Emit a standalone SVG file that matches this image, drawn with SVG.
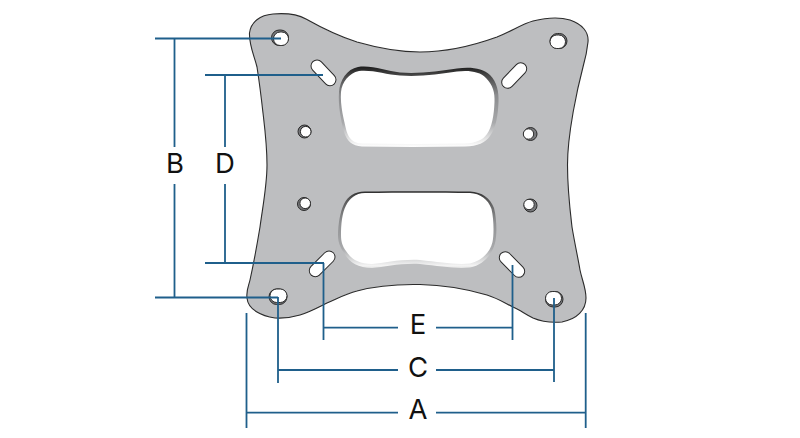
<svg xmlns="http://www.w3.org/2000/svg" width="800" height="438" viewBox="0 0 800 438">
<style>
.plate{fill:#bdbec0;stroke:#2b2b2b;stroke-width:1.1}
.hole{fill:#fff;stroke:#2b2b2b;stroke-width:1}
.shade{fill:#77787b;stroke:#2b2b2b;stroke-width:1}
.slotO{fill:none;stroke:#2b2b2b;stroke-width:13;stroke-linecap:round}
.slotI{fill:none;stroke:#fff;stroke-width:11;stroke-linecap:round}
.dim{fill:none;stroke:#1f5f8b;stroke-width:1.8}
.lab{font-family:"Inter","Liberation Sans",sans-serif;font-size:27.500px;fill:#111;text-anchor:middle}
</style>
<defs>
<linearGradient id="bevelTop" x1="0" y1="0" x2="0" y2="1">
<stop offset="0" stop-color="#1c1c1c"/><stop offset="0.1" stop-color="#444"/><stop offset="0.35" stop-color="#8a8b8d"/><stop offset="0.7" stop-color="#a8a9ab"/><stop offset="0.95" stop-color="#f2f2f2"/><stop offset="1" stop-color="#fff"/>
</linearGradient>
<linearGradient id="bevelLow" x1="0" y1="0" x2="0" y2="1">
<stop offset="0" stop-color="#2a2a2a"/><stop offset="0.1" stop-color="#555"/><stop offset="0.4" stop-color="#8f9092"/><stop offset="0.75" stop-color="#a8a9ab"/><stop offset="0.97" stop-color="#f4f4f4"/><stop offset="1" stop-color="#e4e4e4"/>
</linearGradient>
</defs>
<g id="plate">
<path class="plate" d="M249.500 33C251 22 260 15 273 14C285 13 297 14 306 19C322 28 338 36 357 42C378 48 398 52 420 52C445 52 472 46 497 37C512 31 522 24 533 21C545 18 560 17 570 20C582 24 589 32 588 42C587 52 585 60 583 67C577 90 575 102 573 113C570 130 567.500 150 567.500 165C567.500 190 570 210 572 227C575 245 578 258 580 270C582 280 586 288 586 298C586 310 577 319 562 322C550 323 540 321 533 318C525 314 520 310 513 307C505 303 497 298 487 295C470 290 445 285 420 284.500C395 284 375 286 357 291C345 294 337 299 327 303C317 308 310 312 300 315C290 318 283 318.500 275 318C262 316 248 310 247 298C246 290 249 285 250 280C254 262 257 245 260 227C263 205 267 185 267 165C267 145 265 130 263 113C261 95 259 80 257 67C254 55 249 45 249.500 33Z"/>
</g>
<g id="window-upper">
<path fill="url(#bevelTop)" d="M339 92C340 80 347 69 358 67C372 65 386 71 400 72.500C420 74 440 71 457 68.500C470 66.500 483 68 490 75C497 82 499 92 498.500 102C498 115 496 128 490 136C485 143 478 146 465 146.500C430 147 395 147 362 146.500C352 146 347 141 344 132C341 120 338 106 339 92Z"/>
<path fill="#fff" d="M341 92C342 82 349 73 359 71C372 69.500 386 74.500 400 75.500C420 77 440 74 457 71.500C469 70 480 71.500 486 78C493 85 495 93 494.500 102C494 115 492 127 487 134C483 140 476 143 465 143.500C430 144 395 144 362 143.500C353 143 349 139 346.500 131C344 120 340 106 341 92Z"/>
</g>
<g id="window-lower">
<path fill="url(#bevelLow)" d="M338 235C338 225 340 212 344 204C348 196 354 192 365 191.500C400 191 440 191 470 191.500C482 192 490 198 494 208C497 220 497 235 495 243C492 255 483 265 470 267.500C455 269 440 266 420 264C400 263 385 267 372 268C358 268 349 262 344 253C340 247 338 242 338 235Z"/>
<path fill="#fff" d="M341 235C341 225 342 213 346 205.500C350 198 355 193.500 365 193C400 192.500 440 192.500 470 193C480 193.500 488 199 491.500 209C494 220 494 235 492.500 242C490 253 481 261 470 263.500C455 265 440 262 420 260C400 259 385 263 372 264C359 264 351 259 346 251C342.500 246 341 242 341 235Z"/>
</g>
<g id="hole-corner-tl"><rect class="shade" x="271.500" y="30" width="17" height="15.500" rx="7.700"/><rect class="hole" x="273.500" y="32" width="15" height="13.500" rx="6.700"/></g>
<g id="hole-corner-tr"><rect class="shade" x="550" y="33.500" width="17" height="15" rx="7.500"/><rect class="hole" x="550" y="35" width="15.500" height="13.500" rx="6.700"/></g>
<g id="hole-corner-bl"><rect class="shade" x="269" y="289" width="18" height="15.500" rx="7.700"/><rect class="hole" x="270" y="289" width="17" height="13.500" rx="6.700"/></g>
<g id="hole-corner-br"><rect class="shade" x="545.500" y="291.500" width="17.500" height="15.500" rx="7.700"/><rect class="hole" x="545.500" y="291.500" width="16" height="13.500" rx="6.700"/></g>
<g id="slot-tl"><path class="slotO" d="M317 66L330 79.700"/><path class="slotI" d="M317 66L330 79.700"/></g>
<g id="slot-tr"><path class="slotO" d="M507.700 82.300L520.700 68.700"/><path class="slotI" d="M507.700 82.300L520.700 68.700"/></g>
<g id="slot-bl"><path class="slotO" d="M315.300 270.700L329 257"/><path class="slotI" d="M315.300 270.700L329 257"/></g>
<g id="slot-br"><path class="slotO" d="M505.300 257.700L518.700 271.300"/><path class="slotI" d="M505.300 257.700L518.700 271.300"/></g>
<g id="hole-mid-tl"><circle class="shade" cx="304.500" cy="131.500" r="6.500"/><circle class="hole" cx="305.700" cy="131.700" r="5.300"/></g>
<g id="hole-mid-tr"><circle class="shade" cx="530.500" cy="134" r="6.500"/><circle class="hole" cx="528.500" cy="134" r="5.200"/></g>
<g id="hole-mid-bl"><circle class="shade" cx="304" cy="204" r="6.500"/><circle class="hole" cx="305.200" cy="203.300" r="5.300"/></g>
<g id="hole-mid-br"><circle class="shade" cx="530.500" cy="205.500" r="6.500"/><circle class="hole" cx="529" cy="204.500" r="5.200"/></g>
<g id="connectors">
<path class="dim" d="M155 38.500H281M155 297.500H278M174.500 38.500V147M174.500 184V297.500"/>
<path class="dim" d="M205 75H323M205 263H324M225 75V147M225 184V263"/>
<path class="dim" d="M323.500 263V340M512.500 265V340M323.500 327.700H398M436 327.700H512.500"/>
<path class="dim" d="M278 297V383M554 298V382M278 370H398M436 370H554"/>
<path class="dim" d="M246.500 313V428M585.700 313V428M246.500 412.700H398M436 412.700H585.700"/>
</g>
<g id="label-a"><text class="lab" x="418" y="419">A</text></g>
<g id="label-b"><text class="lab" x="175" y="173">B</text></g>
<g id="label-c"><text class="lab" x="418" y="377">C</text></g>
<g id="label-d"><text class="lab" x="225" y="173">D</text></g>
<g id="label-e"><text class="lab" x="418" y="334">E</text></g>
</svg>
